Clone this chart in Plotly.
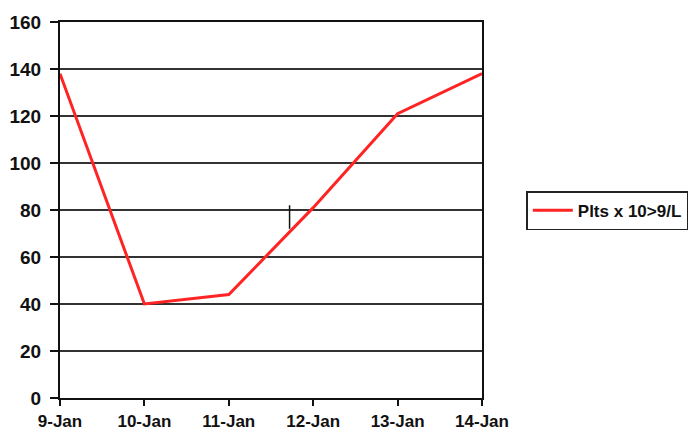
import plotly.graph_objects as go

# Platelet counts by date
dates = ["9-Jan", "10-Jan", "11-Jan", "12-Jan", "13-Jan", "14-Jan"]
platelets = [138, 40, 44, 81, 121, 138]
series_name = "Plts x 10>9/L"

# Short vertical marker between 11-Jan and 12-Jan
marker_x = 2.72
marker_range = [72, 82]

y_ticks = [0, 20, 40, 60, 80, 100, 120, 140, 160]

font_family = "Liberation Sans, Arial, sans-serif"

fig = go.Figure()
fig.add_trace(go.Scatter(
    x=dates, y=platelets, mode="lines", name=series_name,
    line=dict(color="#ff2424", width=3),
))

fig.add_shape(
    type="line", xref="x", yref="y",
    x0=marker_x, x1=marker_x, y0=marker_range[0], y1=marker_range[1],
    line=dict(color="#111111", width=1.5),
)

fig.update_layout(
    width=691, height=432,
    margin=dict(l=60, r=209, t=22, b=34, autoexpand=False),
    paper_bgcolor="white", plot_bgcolor="white",
    font=dict(family=font_family, size=16, color="#111111"),
    showlegend=True,
    legend=dict(
        x=1.105, y=0.55, xanchor="left", yanchor="top",
        bordercolor="#222222", borderwidth=1.5,
        font=dict(family=font_family, size=17, color="#111111", weight="bold"),
        bgcolor="white", itemwidth=40,
        tracegroupgap=0,
    ),
    xaxis=dict(
        type="category", range=[0, 5], automargin=False,
        showgrid=False, showline=True, linecolor="#111111", linewidth=2,
        mirror=True, ticks="outside", ticklen=6, tickwidth=1.5, tickcolor="#111111",
        tickfont=dict(family=font_family, size=17, weight="bold"),
        ticklabelstandoff=1,
        zeroline=False,
    ),
    yaxis=dict(
        range=[0, 160], tickvals=y_ticks, automargin=False,
        showgrid=True, gridcolor="#333333", gridwidth=1.5,
        showline=True, linecolor="#111111", linewidth=2,
        mirror=True, ticks="outside", ticklen=8, tickwidth=1.5, tickcolor="#111111",
        tickfont=dict(family=font_family, size=19, weight="bold"),
        ticklabelstandoff=5,
        zeroline=False,
    ),
)

fig.write_html("out.html")
